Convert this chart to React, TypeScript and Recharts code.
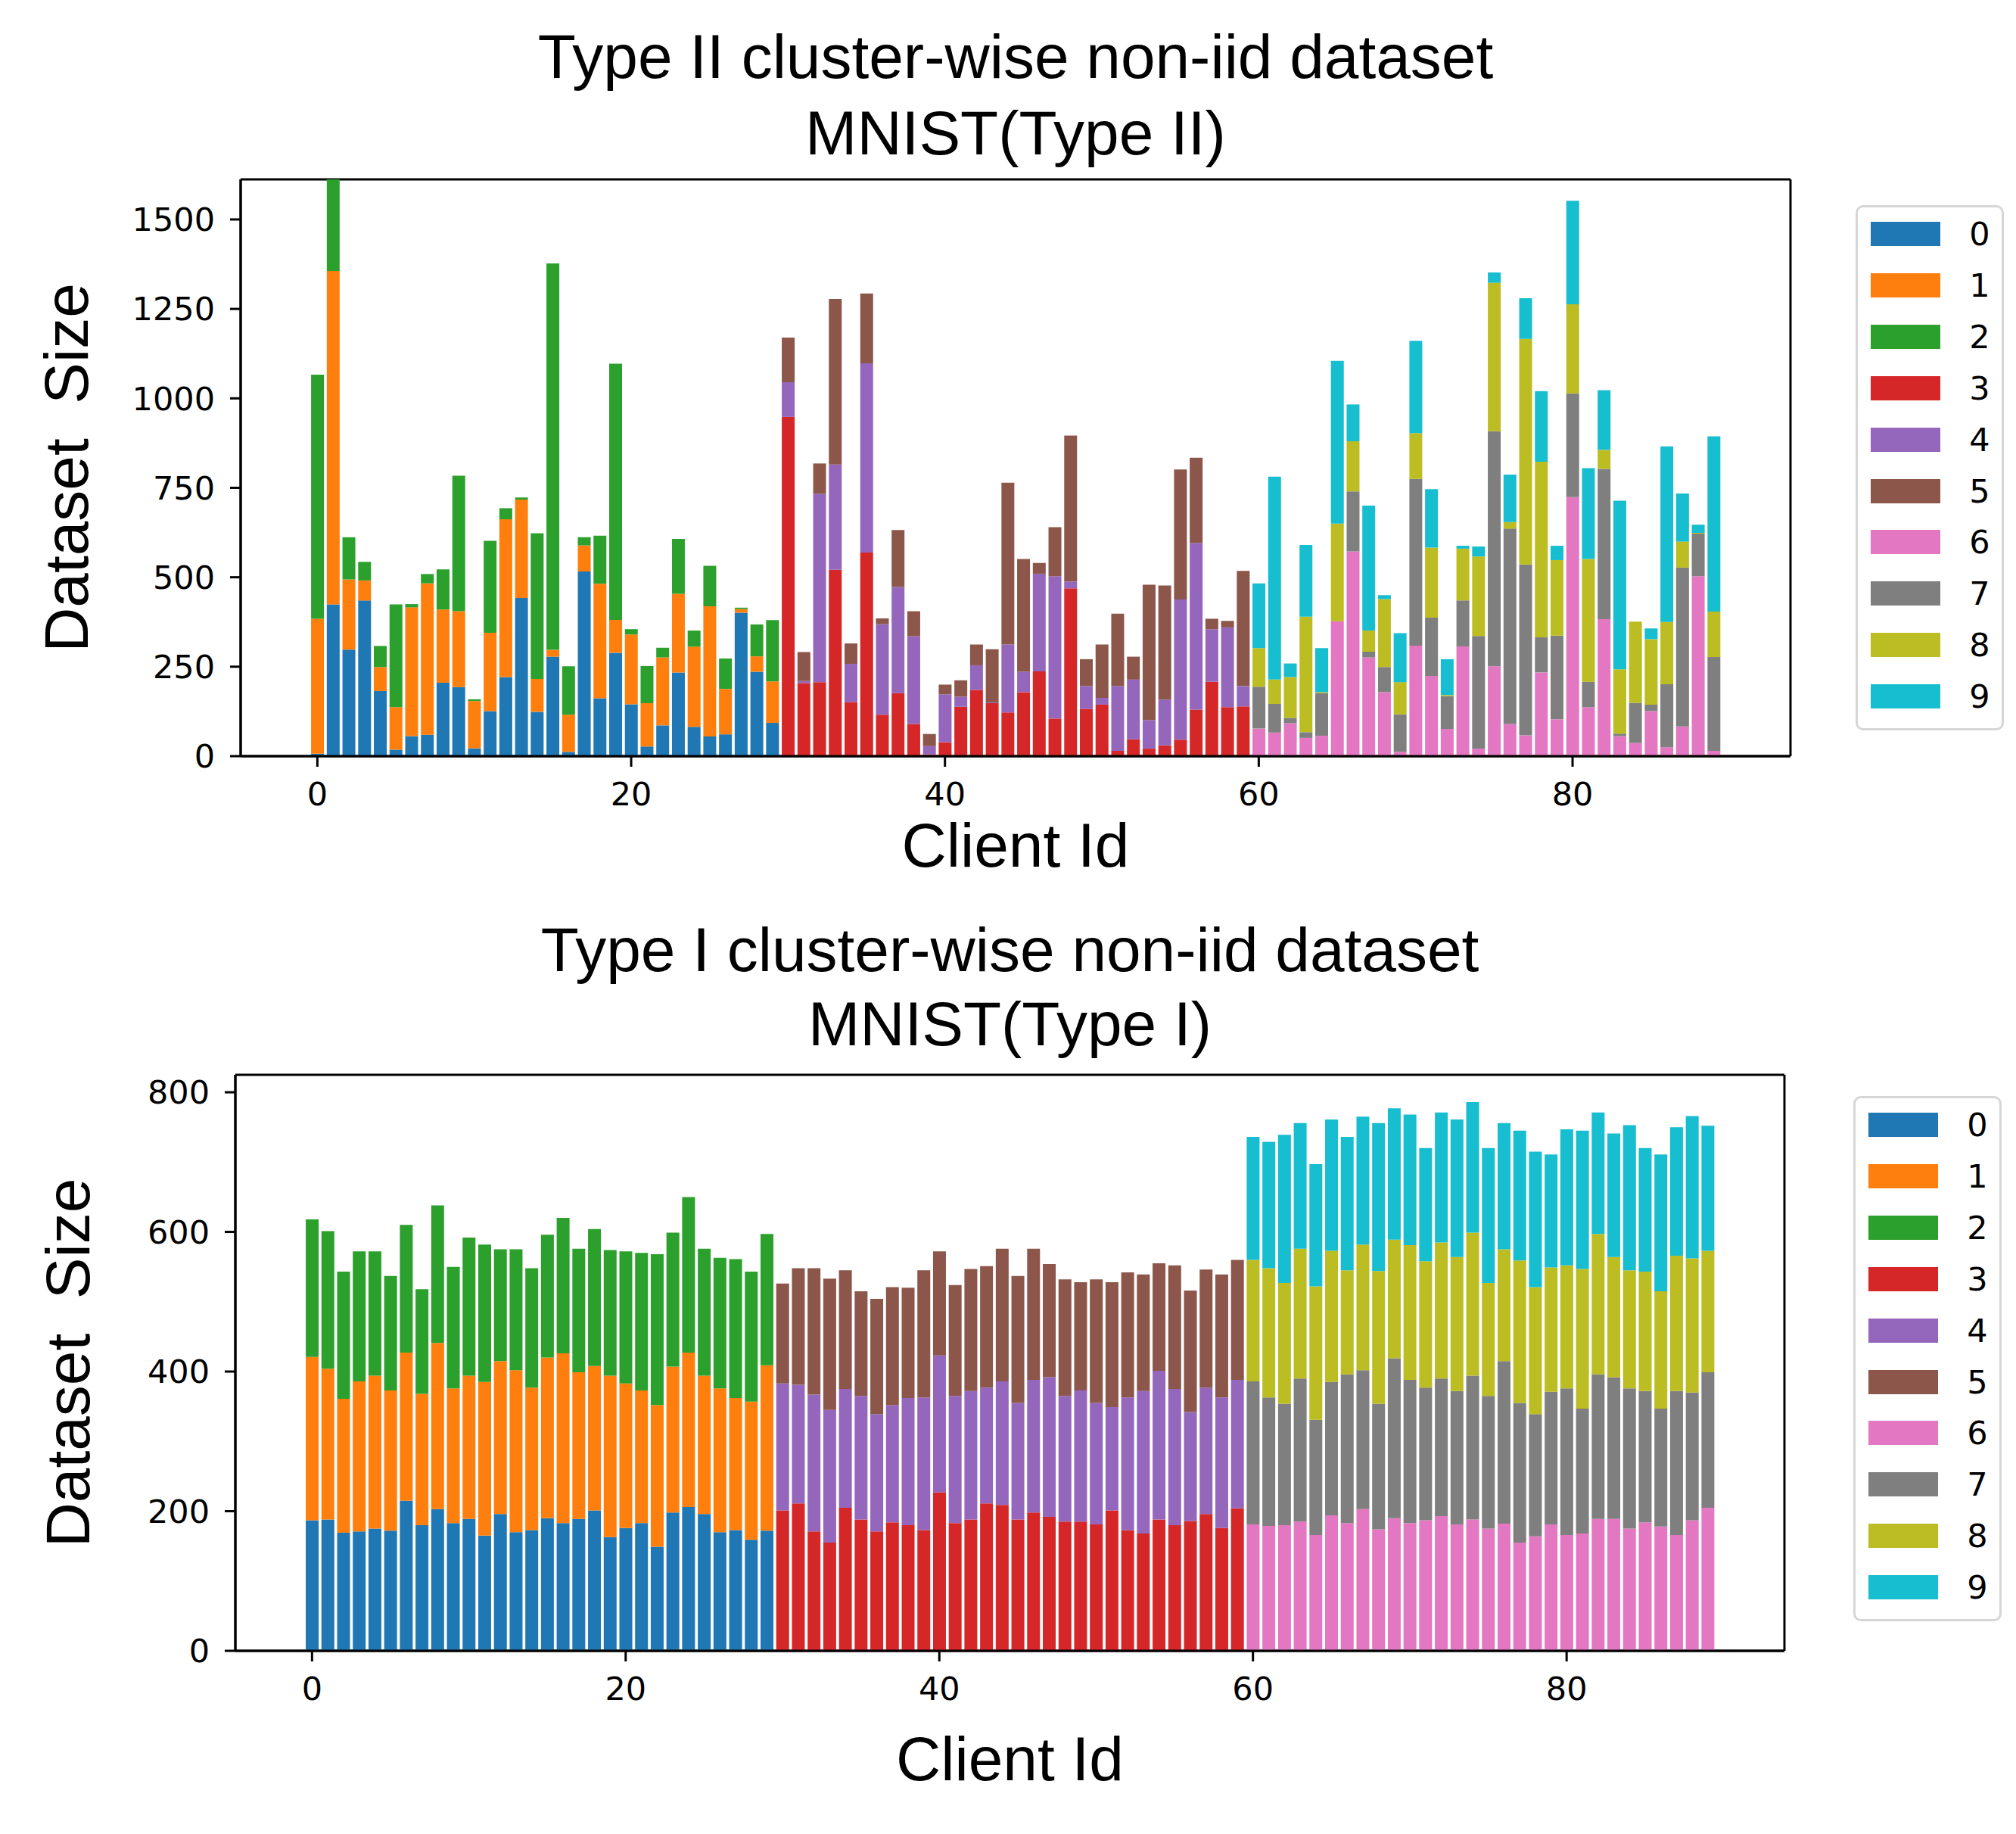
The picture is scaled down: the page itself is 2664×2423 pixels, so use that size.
import { BarChart, Bar, XAxis, YAxis, CartesianGrid } from 'recharts';

const PAGE_W = 2664;
const PAGE_H = 2423;

const CLASSES = ['0', '1', '2', '3', '4', '5', '6', '7', '8', '9'];
const COLORS = ['#1f77b4', '#ff7f0e', '#2ca02c', '#d62728', '#9467bd', '#8c564b', '#e377c2', '#7f7f7f', '#bcbd22', '#17becf'];

// clients 0-29 hold classes 0,1,2 ; 30-59 hold 3,4,5 ; 60-89 hold 6,7,8,9
const CLUSTER_CLASSES = [[0, 1, 2], [3, 4, 5], [6, 7, 8, 9]];
const CLIENTS_PER_CLUSTER = 30;

// ---- Type II (top panel) ----
const T2_CLASS0 = [7, 424, 298, 435, 182, 18, 56, 60, 205, 193, 22, 126, 221, 442, 124, 278, 12, 516, 162, 289, 145, 27, 86, 234, 82, 55, 61, 401, 236, 93];
const T2_CLASS1 = [377, 932, 196, 56, 67, 119, 360, 423, 205, 212, 132, 219, 441, 275, 92, 19, 104, 73, 320, 92, 195, 121, 190, 220, 224, 364, 127, 10, 43, 116];
const T2_CLASS2 = [682, 256, 118, 52, 59, 287, 9, 26, 112, 379, 5, 257, 31, 6, 407, 1080, 135, 23, 134, 716, 15, 104, 27, 153, 45, 113, 85, 4, 89, 171];
const T2_CLASS3 = [948, 204, 207, 521, 151, 569, 116, 176, 90, 5, 39, 138, 185, 148, 122, 179, 237, 105, 469, 132, 144, 15, 47, 21, 30, 46, 130, 208, 137, 139];
const T2_CLASS4 = [97, 6, 526, 294, 107, 529, 253, 297, 245, 23, 134, 28, 69, 2, 190, 57, 273, 398, 19, 64, 19, 181, 167, 80, 128, 392, 466, 147, 223, 57];
const T2_CLASS5 = [125, 81, 85, 463, 57, 195, 16, 159, 70, 34, 27, 46, 58, 149, 452, 315, 30, 137, 408, 75, 149, 202, 64, 378, 319, 363, 238, 29, 18, 322];
const T2_CLASS6 = [77, 66, 92, 51, 57, 377, 572, 276, 179, 12, 309, 224, 76, 307, 21, 251, 90, 58, 234, 103, 724, 137, 383, 56, 37, 126, 25, 83, 503, 15];
const T2_CLASS7 = [117, 80, 15, 16, 119, 0, 168, 16, 70, 105, 466, 163, 92, 128, 315, 657, 546, 478, 98, 234, 290, 71, 420, 7, 112, 18, 176, 444, 119, 262];
const T2_CLASS8 = [108, 68, 114, 323, 3, 273, 140, 59, 190, 90, 128, 196, 3, 145, 222, 415, 18, 630, 491, 211, 249, 343, 53, 180, 227, 183, 174, 73, 2, 127];
const T2_CLASS9 = [181, 567, 38, 200, 123, 455, 103, 349, 11, 137, 258, 163, 100, 8, 28, 29, 133, 114, 197, 40, 289, 254, 167, 471, 0, 30, 491, 134, 23, 490];

// ---- Type I (bottom panel) ----
const T1_CLASS0 = [187, 188, 169, 171, 175, 172, 215, 180, 203, 183, 189, 165, 196, 170, 173, 190, 183, 189, 201, 163, 176, 183, 149, 198, 206, 196, 170, 173, 159, 172];
const T1_CLASS1 = [234, 216, 192, 215, 219, 201, 212, 188, 238, 193, 205, 220, 219, 232, 204, 230, 243, 210, 207, 231, 207, 190, 203, 209, 221, 198, 206, 189, 198, 237];
const T1_CLASS2 = [197, 197, 182, 186, 178, 164, 183, 150, 197, 174, 198, 197, 160, 173, 171, 176, 194, 177, 196, 180, 189, 197, 216, 192, 223, 182, 187, 199, 186, 188];
const T1_CLASS3 = [201, 211, 171, 155, 205, 188, 171, 184, 180, 173, 227, 183, 188, 211, 209, 188, 198, 192, 185, 185, 181, 201, 173, 168, 188, 180, 186, 196, 176, 204];
const T1_CLASS4 = [182, 170, 196, 190, 170, 177, 168, 168, 182, 190, 196, 182, 184, 166, 177, 167, 190, 200, 180, 188, 174, 148, 190, 204, 213, 195, 156, 181, 187, 184];
const T1_CLASS5 = [143, 167, 181, 188, 170, 150, 165, 169, 158, 182, 149, 159, 175, 174, 190, 182, 188, 162, 167, 155, 177, 179, 179, 167, 154, 177, 174, 169, 176, 172];
const T1_CLASS6 = [181, 179, 180, 185, 166, 194, 183, 203, 174, 190, 183, 187, 193, 181, 188, 175, 182, 155, 164, 181, 166, 168, 189, 189, 175, 184, 178, 166, 187, 205];
const T1_CLASS7 = [205, 184, 174, 205, 165, 191, 213, 199, 180, 229, 205, 190, 197, 191, 206, 190, 233, 200, 175, 190, 210, 179, 207, 203, 201, 188, 169, 206, 183, 194];
const T1_CLASS8 = [174, 185, 173, 186, 191, 188, 149, 180, 190, 170, 193, 181, 195, 192, 205, 162, 160, 204, 182, 178, 176, 200, 201, 172, 169, 171, 168, 194, 192, 174];
const T1_CLASS9 = [176, 181, 212, 180, 175, 188, 191, 183, 212, 188, 187, 162, 186, 197, 187, 193, 181, 186, 194, 162, 195, 198, 174, 177, 208, 177, 196, 184, 204, 179];

const T2_TICKS = [0, 250, 500, 750, 1000, 1250, 1500];
const T1_TICKS = [0, 200, 400, 600, 800];
const X_TICKS = [0, 20, 40, 60, 80];

function buildRows(perClass: number[][]) {
  const rows: Record<string, number>[] = [];
  CLUSTER_CLASSES.forEach((classes, k) => {
    for (let j = 0; j < CLIENTS_PER_CLUSTER; j++) {
      const row: Record<string, number> = { id: k * CLIENTS_PER_CLUSTER + j };
      CLASSES.forEach((_, c) => { row['c' + c] = 0; });
      classes.forEach(c => { row['c' + c] = perClass[c][j]; });
      rows.push(row);
    }
  });
  return rows;
}

const typeIIRows = buildRows([T2_CLASS0, T2_CLASS1, T2_CLASS2, T2_CLASS3, T2_CLASS4, T2_CLASS5, T2_CLASS6, T2_CLASS7, T2_CLASS8, T2_CLASS9]);
const typeIRows = buildRows([T1_CLASS0, T1_CLASS1, T1_CLASS2, T1_CLASS3, T1_CLASS4, T1_CLASS5, T1_CLASS6, T1_CLASS7, T1_CLASS8, T1_CLASS9]);

const TICK_FONT = { fontSize: 43, fontFamily: 'DejaVu Sans', fill: '#000' };
const AX_W = 100;
const AX_H = 100;

interface PanelProps {
  rows: Record<string, number>[];
  yMax: number;
  yTicks: number[];
  chartTop: number;
  chartHeight: number;
  plot: { left: number; right: number; top: number; bottom: number };
}

function Panel({ rows, yMax, yTicks, chartTop, chartHeight, plot }: PanelProps) {
  const plotW = plot.right - plot.left;
  // matplotlib xlim: -0.4-4.49 .. 89.4+4.49 -> 98.78 units
  const unit = plotW / 98.78;
  const pad = unit * 4.39;
  const frame = (o: any) => [o.offset.top, o.offset.top + o.offset.height];
  const frameV = (o: any) => [o.offset.left, o.offset.left + o.offset.width];
  return (
    <div style={{ position: 'absolute', left: 0, top: chartTop }}>
      <BarChart
        width={PAGE_W}
        height={chartHeight}
        data={rows}
        barCategoryGap="10%"
        margin={{
          top: plot.top - chartTop,
          bottom: chartTop + chartHeight - plot.bottom - AX_H,
          left: plot.left - AX_W,
          right: PAGE_W - plot.right,
        }}
      >
        <CartesianGrid
          stroke="#000"
          strokeWidth={3}
          horizontalCoordinatesGenerator={frame}
          verticalCoordinatesGenerator={frameV}
        />
        <XAxis
          dataKey="id"
          type="category"
          height={AX_H}
          ticks={X_TICKS}
          interval={0}
          padding={{ left: pad, right: pad }}
          tick={TICK_FONT}
          tickSize={14}
          tickMargin={20}
          tickLine={{ stroke: '#000', strokeWidth: 3 }}
          axisLine={{ stroke: '#000', strokeWidth: 3 }}
        />
        <YAxis
          width={AX_W}
          type="number"
          domain={[0, yMax]}
          allowDataOverflow
          ticks={yTicks}
          interval={0}
          tick={TICK_FONT}
          tickSize={14}
          tickMargin={20}
          tickLine={{ stroke: '#000', strokeWidth: 3 }}
          axisLine={{ stroke: '#000', strokeWidth: 3 }}
        />
        {CLASSES.map((c, i) => (
          <Bar key={c} dataKey={'c' + i} name={c} stackId="s" fill={COLORS[i]} isAnimationActive={false} />
        ))}
      </BarChart>
    </div>
  );
}

function ClassLegend({ left, top }: { left: number; top: number }) {
  return (
    <div
      style={{
        position: 'absolute',
        left,
        top,
        width: 196,
        height: 694,
        boxSizing: 'border-box',
        border: '3px solid #d6d6d6',
        borderRadius: 10,
        background: '#fff',
      }}
    >
      {CLASSES.map((c, i) => {
        const cy = 35 + i * 67.9;
        return (
          <div key={c}>
            <div style={{ position: 'absolute', left: 17, top: cy - 16, width: 92, height: 32, background: COLORS[i] }} />
            <span
              style={{
                position: 'absolute',
                left: 161,
                top: cy,
                transform: 'translate(-50%, -50%)',
                fontFamily: 'DejaVu Sans',
                fontSize: 43,
                lineHeight: 1,
                color: '#000',
              }}
            >
              {c}
            </span>
          </div>
        );
      })}
    </div>
  );
}

const TOP_PLOT = { left: 318, right: 2366, top: 237, bottom: 999 };
const BOTTOM_PLOT = { left: 311, right: 2358, top: 1420, bottom: 2181 };

export default function App() {
  const label = { fontFamily: 'Liberation Sans, Arial, sans-serif', fontSize: 82, fill: '#000' };
  const topCx = (TOP_PLOT.left + TOP_PLOT.right) / 2;
  const botCx = (BOTTOM_PLOT.left + BOTTOM_PLOT.right) / 2;
  const topCy = (TOP_PLOT.top + TOP_PLOT.bottom) / 2;
  const botCy = (BOTTOM_PLOT.top + BOTTOM_PLOT.bottom) / 2;
  return (
    <div style={{ position: 'absolute', left: 0, top: 0, width: PAGE_W, height: PAGE_H, background: '#fff', overflow: 'hidden' }}>
      <Panel rows={typeIIRows} yMax={1612} yTicks={T2_TICKS} chartTop={0} chartHeight={1200} plot={TOP_PLOT} />
      <Panel rows={typeIRows} yMax={825} yTicks={T1_TICKS} chartTop={1200} chartHeight={1223} plot={BOTTOM_PLOT} />
      <svg width={PAGE_W} height={PAGE_H} style={{ position: 'absolute', left: 0, top: 0, pointerEvents: 'none' }}>
        <text x={topCx} y={103} textAnchor="middle" {...label}>Type II cluster-wise non-iid dataset</text>
        <text x={topCx} y={204} textAnchor="middle" {...label}>MNIST(Type II)</text>
        <text x={topCx} y={1145} textAnchor="middle" {...label}>Client Id</text>
        <text x={116} y={topCy} textAnchor="middle" transform={`rotate(-90, 116, ${topCy})`} {...label} style={{ whiteSpace: 'pre' }}>{'Dataset  Size'}</text>

        <text x={botCx} y={1283} textAnchor="middle" {...label}>Type I cluster-wise non-iid dataset</text>
        <text x={botCx} y={1381} textAnchor="middle" {...label}>MNIST(Type I)</text>
        <text x={botCx} y={2352} textAnchor="middle" {...label}>Client Id</text>
        <text x={118} y={botCy} textAnchor="middle" transform={`rotate(-90, 118, ${botCy})`} {...label} style={{ whiteSpace: 'pre' }}>{'Dataset  Size'}</text>
      </svg>
      <ClassLegend left={2452} top={271} />
      <ClassLegend left={2449} top={1448} />
    </div>
  );
}
